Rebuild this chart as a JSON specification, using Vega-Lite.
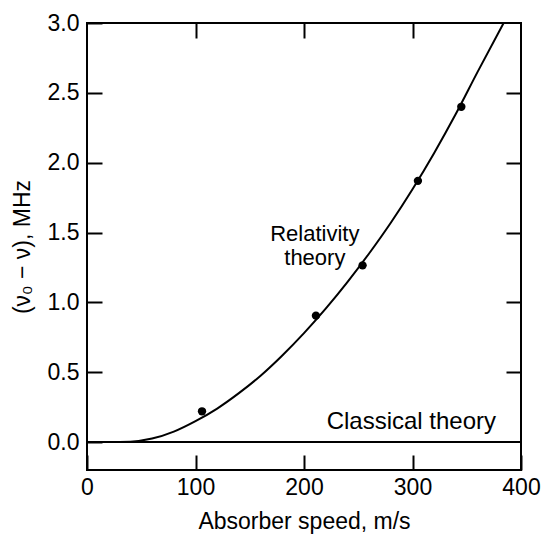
{
  "$schema": "https://vega.github.io/schema/vega-lite/v6.json",
  "width": 434,
  "height": 447,
  "autosize": "none",
  "padding": {"left": 87, "top": 23, "right": 23, "bottom": 64},
  "background": "white",
  "config": {
    "font": "Liberation Sans",
    "view": {"stroke": "black", "strokeWidth": 2},
    "axis": {
      "grid": false,
      "domain": false,
      "tickColor": "black",
      "tickWidth": 2,
      "tickSize": -15,
      "labelColor": "black",
      "labelFontSize": 23,
      "labelFlush": false,
      "labelOverlap": false,
      "titleColor": "black",
      "titleFontSize": 23,
      "titleFontWeight": "normal"
    }
  },
  "datasets": {
    "curve": [
      {"speed": 0, "shift": 0},
      {"speed": 20, "shift": 0},
      {"speed": 40, "shift": 0.003},
      {"speed": 60, "shift": 0.025},
      {"speed": 80, "shift": 0.075},
      {"speed": 100, "shift": 0.15},
      {"speed": 120, "shift": 0.24},
      {"speed": 140, "shift": 0.35},
      {"speed": 160, "shift": 0.475},
      {"speed": 180, "shift": 0.62},
      {"speed": 200, "shift": 0.78},
      {"speed": 220, "shift": 0.955},
      {"speed": 240, "shift": 1.145},
      {"speed": 260, "shift": 1.35},
      {"speed": 280, "shift": 1.57},
      {"speed": 300, "shift": 1.81},
      {"speed": 320, "shift": 2.07},
      {"speed": 340, "shift": 2.35},
      {"speed": 360, "shift": 2.65},
      {"speed": 384, "shift": 3.0}
    ],
    "points": [
      {"speed": 106, "shift": 0.22},
      {"speed": 211, "shift": 0.905},
      {"speed": 254, "shift": 1.265},
      {"speed": 305, "shift": 1.87},
      {"speed": 345, "shift": 2.4}
    ],
    "zero": [{"shift": 0}],
    "relnote": [{"speed": 210, "shift": 1.436, "label": "Relativity\ntheory"}],
    "classnote": [{"speed": 377, "shift": 0.09, "label": "Classical theory"}]
  },
  "layer": [
    {
      "data": {"name": "curve"},
      "mark": {"type": "line", "color": "black", "strokeWidth": 2, "clip": true, "interpolate": "monotone"},
      "encoding": {
        "x": {
          "field": "speed", "type": "quantitative",
          "scale": {"domain": [0, 400], "nice": false, "zero": false},
          "axis": {
            "orient": "bottom",
            "values": [0, 100, 200, 300, 400],
            "labelPadding": 21,
            "title": "Absorber speed, m/s",
            "titleY": 58,
            "titleBaseline": "alphabetic"
          }
        },
        "y": {
          "field": "shift", "type": "quantitative",
          "scale": {"domain": [-0.2, 3.0], "nice": false, "zero": false},
          "axis": {
            "orient": "left",
            "values": [0, 0.5, 1, 1.5, 2, 2.5, 3],
            "format": ".1f",
            "labelPadding": 23,
            "title": "(ν₀ − ν), MHz",
            "titleX": -58,
            "titleBaseline": "alphabetic"
          }
        }
      }
    },
    {
      "data": {"name": "points"},
      "mark": {"type": "circle", "color": "black", "size": 70, "opacity": 1},
      "encoding": {
        "x": {
          "field": "speed", "type": "quantitative",
          "axis": {"orient": "top", "values": [100, 200, 300], "labels": false, "title": null}
        },
        "y": {
          "field": "shift", "type": "quantitative",
          "axis": {"orient": "right", "values": [0.5, 1, 1.5, 2, 2.5], "labels": false, "title": null}
        }
      }
    },
    {
      "data": {"name": "zero"},
      "mark": {"type": "rule", "color": "black", "strokeWidth": 2},
      "encoding": {
        "y": {"field": "shift", "type": "quantitative", "axis": null}
      }
    },
    {
      "data": {"name": "relnote"},
      "mark": {"type": "text", "align": "center", "baseline": "alphabetic", "fontSize": 22, "lineBreak": "\n", "lineHeight": 23.5, "color": "black"},
      "encoding": {
        "x": {"field": "speed", "type": "quantitative", "axis": null},
        "y": {"field": "shift", "type": "quantitative", "axis": null},
        "text": {"field": "label"}
      }
    },
    {
      "data": {"name": "classnote"},
      "mark": {"type": "text", "align": "right", "baseline": "alphabetic", "fontSize": 24, "color": "black"},
      "encoding": {
        "x": {"field": "speed", "type": "quantitative", "axis": null},
        "y": {"field": "shift", "type": "quantitative", "axis": null},
        "text": {"field": "label"}
      }
    }
  ],
  "resolve": {"axis": {"x": "independent", "y": "independent"}}
}
